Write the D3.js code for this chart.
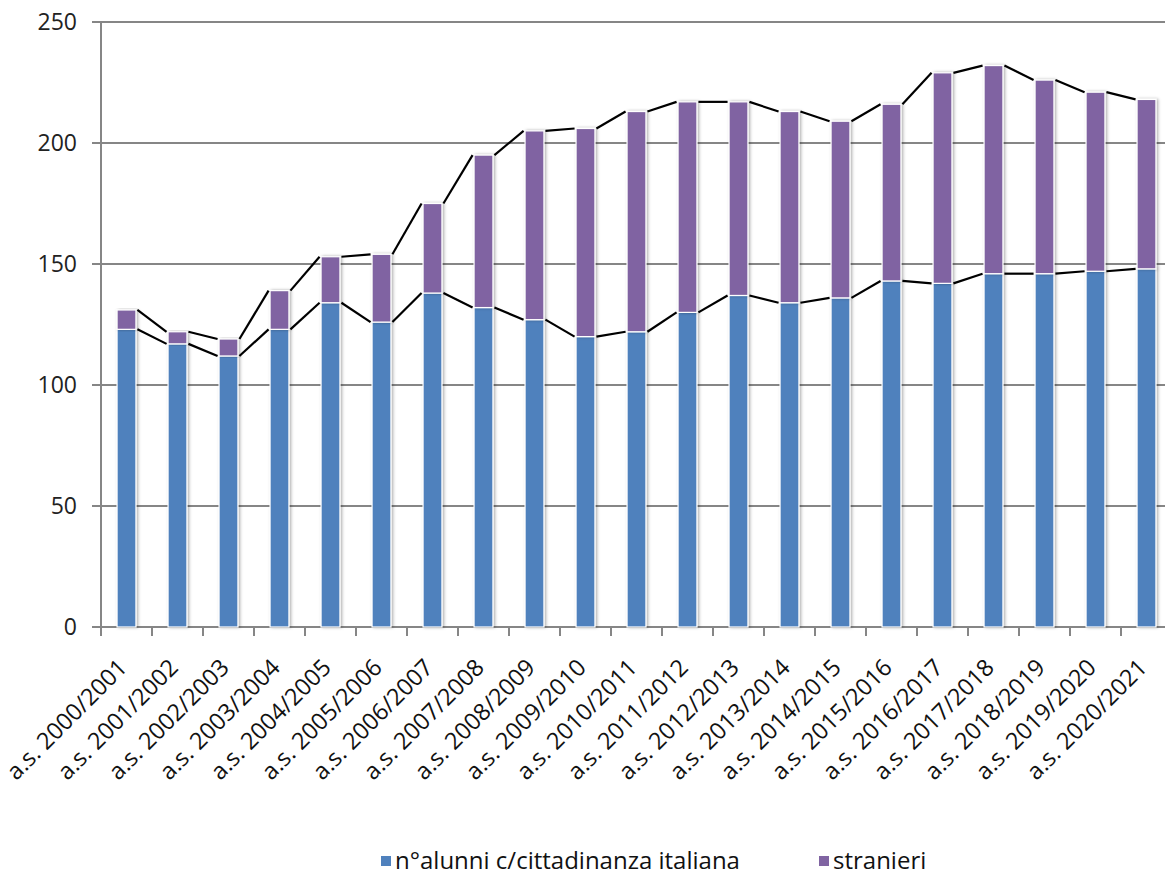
<!DOCTYPE html>
<html>
<head>
<meta charset="utf-8">
<script src="https://cdn.jsdelivr.net/npm/d3@7"></script>
<style>
  body { margin: 0; background: #fff; }
  svg { display: block; font-family: 'Open Sans', sans-serif; }
  .grid line { stroke: #868686; stroke-width: 2; }
  .ylab { font-size: 23px; fill: #222; }
  .xlab { font-size: 23.5px; fill: #111; }
  .legend text { font-size: 24px; fill: #111; }
  .series-line { stroke: #000; stroke-width: 2.2; fill: none; }
</style>
</head>
<body>
<svg width="1165" height="875"></svg>
<script>
// years on the x axis
var categories = [
    'a.s. 2000/2001', 'a.s. 2001/2002', 'a.s. 2002/2003', 'a.s. 2003/2004',
    'a.s. 2004/2005', 'a.s. 2005/2006', 'a.s. 2006/2007', 'a.s. 2007/2008',
    'a.s. 2008/2009', 'a.s. 2009/2010', 'a.s. 2010/2011', 'a.s. 2011/2012',
    'a.s. 2012/2013', 'a.s. 2013/2014', 'a.s. 2014/2015', 'a.s. 2015/2016',
    'a.s. 2016/2017', 'a.s. 2017/2018', 'a.s. 2018/2019', 'a.s. 2019/2020',
    'a.s. 2020/2021'
];
// n° alunni con cittadinanza italiana
var italiani = [123, 117, 112, 123, 134, 126, 138, 132, 127, 120, 122, 130, 137, 134, 136, 143, 142, 146, 146, 147, 148];
// stranieri (stacked on top)
var stranieri = [8, 5, 7, 16, 19, 28, 37, 63, 78, 86, 91, 87, 80, 79, 73, 73, 87, 86, 80, 74, 70];
var yTicks = [0, 50, 100, 150, 200, 250];
var seriesNames = ['n°alunni c/cittadinanza italiana', 'stranieri'];
var colors = ['#4F81BD', '#8064A2'];

var svg = d3.select('svg');
var width = +svg.attr('width');

var plot = {l: 101, r: 1172, t: 22, b: 627};

var xScale = d3.scaleBand()
    .domain(categories)
    .range([plot.l, plot.r]);
var barW = xScale.bandwidth() * 0.37;

var yScale = d3.scaleLinear()
    .domain([0, 250])
    .range([plot.b, plot.t]);

// table for d3.stack
var table = categories.map(function(c, i) {
    return {cat: c, ita: italiani[i], str: stranieri[i]};
});
var stacked = d3.stack().keys(['ita', 'str'])(table);

// soft shadow around the bars
var defs = svg.append('defs');
var f = defs.append('filter').attr('id', 'shadow')
    .attr('x', '-50%').attr('y', '-10%').attr('width', '200%').attr('height', '120%');
f.append('feDropShadow')
    .attr('dx', 1.5).attr('dy', 0)
    .attr('stdDeviation', 1.8)
    .attr('flood-color', '#000')
    .attr('flood-opacity', 0.33);

// horizontal grid, extended left as ticks
var grid = svg.append('g').attr('class', 'grid');
grid.selectAll('line')
    .data(yTicks)
    .enter()
    .append('line')
    .attr('x1', plot.l - 9)
    .attr('x2', width)
    .attr('y1', d => yScale(d))
    .attr('y2', d => yScale(d));

// y axis line
svg.append('line')
    .attr('x1', plot.l).attr('x2', plot.l)
    .attr('y1', plot.t - 1).attr('y2', plot.b + 9)
    .attr('stroke', '#868686').attr('stroke-width', 2);

// x ticks at band boundaries
svg.append('g')
    .selectAll('line')
    .data(categories.slice(1))
    .enter()
    .append('line')
    .attr('x1', d => xScale(d)).attr('x2', d => xScale(d))
    .attr('y1', plot.b).attr('y2', plot.b + 9)
    .attr('stroke', '#868686').attr('stroke-width', 2);

svg.selectAll('.ylab')
    .data(yTicks)
    .enter()
    .append('text')
    .attr('class', 'ylab')
    .attr('x', 77)
    .attr('y', d => yScale(d))
    .attr('dy', '0.36em')
    .attr('text-anchor', 'end')
    .text(d => d);

// bars
var layers = svg.selectAll('.layer')
    .data(stacked)
    .enter()
    .append('g')
    .attr('class', 'layer')
    .attr('fill', (d, i) => colors[i]);

layers.selectAll('rect')
    .data(d => d)
    .enter()
    .append('rect')
    .attr('x', d => xScale(d.data.cat) + (xScale.bandwidth() - barW) / 2)
    .attr('width', barW)
    .attr('y', d => yScale(d[1]))
    .attr('height', d => yScale(d[0]) - yScale(d[1]))
    .attr('stroke', '#fff')
    .attr('stroke-width', 1.2)
    .attr('filter', 'url(#shadow)');

// series lines joining the tops of each segment
var segs = [];
stacked.forEach(function(layer) {
    for (var i = 0; i < layer.length - 1; i++) {
        segs.push({a: layer[i], b: layer[i + 1]});
    }
});
svg.selectAll('.series-line')
    .data(segs)
    .enter()
    .append('line')
    .attr('class', 'series-line')
    .attr('x1', d => xScale(d.a.data.cat) + (xScale.bandwidth() + barW) / 2 + 1.5)
    .attr('y1', d => yScale(d.a[1]))
    .attr('x2', d => xScale(d.b.data.cat) + (xScale.bandwidth() - barW) / 2 - 1.5)
    .attr('y2', d => yScale(d.b[1]));

// rotated category labels
svg.selectAll('.xlab')
    .data(categories)
    .enter()
    .append('text')
    .attr('class', 'xlab')
    .attr('text-anchor', 'end')
    .attr('transform', d => 'translate(' + [xScale(d) + xScale.bandwidth() / 2 + 2, 669] + ') rotate(-45)')
    .text(d => d);

// legend
var legendPos = [381, 819];
var legend = svg.append('g').attr('class', 'legend')
    .selectAll('g')
    .data(seriesNames)
    .enter()
    .append('g')
    .attr('transform', (d, i) => 'translate(' + [legendPos[i], 861] + ')');
legend.append('rect')
    .attr('x', 0).attr('y', -5)
    .attr('width', 10).attr('height', 10)
    .attr('fill', (d, i) => colors[i]);
legend.append('text')
    .attr('x', 14)
    .attr('dy', '0.35em')
    .text(d => d);
</script>
</body>
</html>
